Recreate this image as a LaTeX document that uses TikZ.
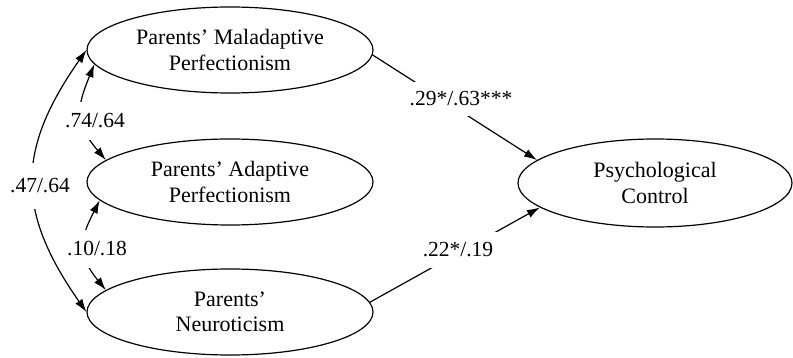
\documentclass[tikz,border=0pt]{standalone}
\usepackage{fontspec}
\setmainfont{Liberation Serif}
\usetikzlibrary{arrows.meta,shapes.geometric}
\begin{document}
\begin{tikzpicture}[x=1pt,y=1pt,
  latent/.style={ellipse,draw,line width=1.2pt,inner sep=0pt,align=center,
    font=\fontsize{22}{25.5}\selectfont},
  conn/.style={line width=1.2pt},
  arr/.style={conn,-{Latex[length=13pt,width=8.5pt]}},
  darr/.style={conn,{Latex[length=13pt,width=8.5pt]}-{Latex[length=13pt,width=8.5pt]}},
  coef/.style={fill=white,font=\fontsize{21.5}{24}\selectfont,inner xsep=2pt}]
\useasboundingbox (0,0) rectangle (793,-358);
\node[latent,minimum width=286pt,minimum height=86pt] (M) at (230,-50) {Parents’ Maladaptive\\Perfectionism};
\node[latent,minimum width=286pt,minimum height=86pt] (A) at (230,-182) {Parents’ Adaptive\\Perfectionism};
\node[latent,minimum width=286pt,minimum height=86pt] (N) at (230,-312) {Parents’\\Neuroticism};
\node[latent,minimum width=274pt,minimum height=88pt] (P) at (655,-183) {Psychological\\Control};
\draw[arr] (M.-2) -- (P.169);
\draw[arr] (N.4) -- (P.-168);
\draw[darr] (N.west) to[out=125,in=235,looseness=1.2] (M.west);
\draw[darr] (M.186) to[out=248,in=130,looseness=1.3] (A.170);
\draw[darr] (A.188) to[out=243,in=129,looseness=1.3] (N.170);
\node[coef,inner ysep=10pt,inner xsep=8pt] (l1) at (461,-99) {.29*/.63***};
\node[coef,inner ysep=11pt,inner xsep=10pt] (l2) at (458,-250) {.22*/.19};
\node[coef,inner ysep=16pt] (l3) at (40,-186) {.47/.64};
\node[coef,inner ysep=12pt] (l4) at (95,-121) {.74/.64};
\node[coef,inner ysep=12pt] (l5) at (97,-249) {.10/.18};
\end{tikzpicture}
\end{document}
